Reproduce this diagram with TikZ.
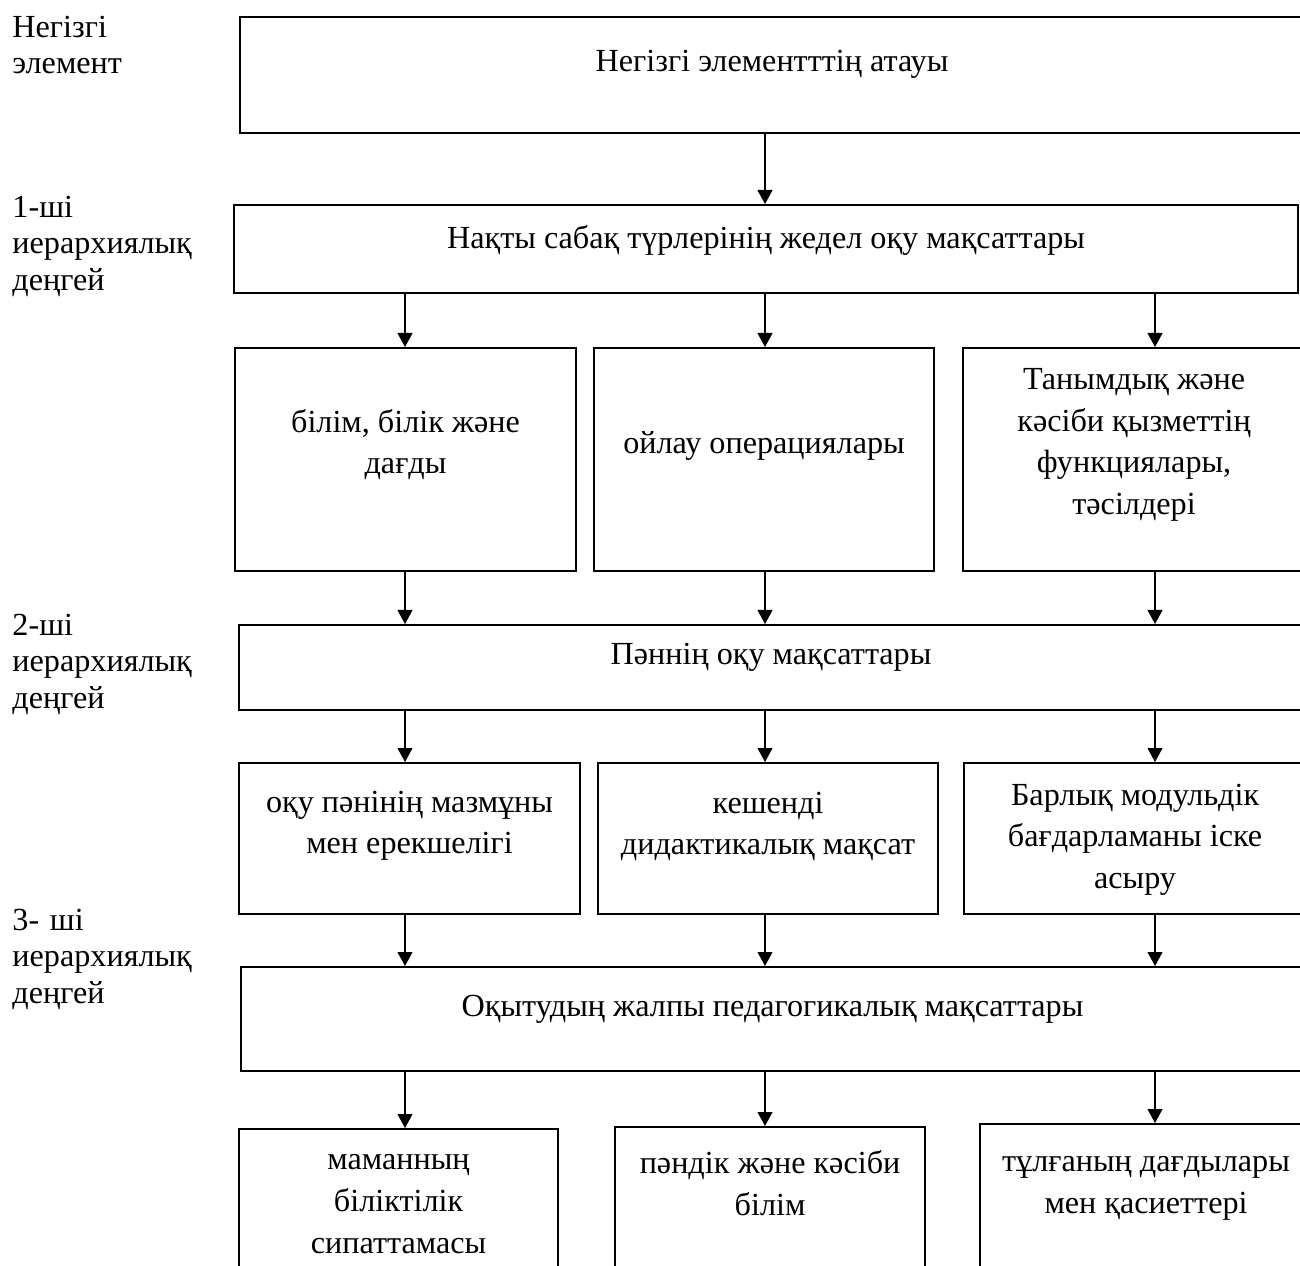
\documentclass[tikz,border=0pt]{standalone}
\usepackage{fontspec}
\setmainfont{Liberation Serif}
\usetikzlibrary{arrows.meta}
\newcommand\pxu{0.435pt}
\newdimen\pxd \pxd=0.435pt
\newcommand\boxfont{\fontsize{14pt}{18.1pt}\selectfont}
\newcommand\lift[2]{\raisebox{#1\pxd}[\height][\depth]{\begin{tabular}{@{}c@{}}#2\end{tabular}}}
\begin{document}
\begin{tikzpicture}[x=0.435pt,y=-0.435pt,
  box/.style 2 args={draw,line width=0.9pt,inner sep=0pt,anchor=north west,
    minimum width=#1*\pxu,minimum height=#2*\pxu,font=\boxfont},
  lvl/.style={anchor=base west,inner sep=0pt,text width=200*\pxu,align=left,
    font=\fontsize{14pt}{16pt}\selectfont},
  arr/.style={-{Triangle[width=6.5pt,length=6.1pt]},line width=0.5pt}]
\fill[white] (0,0) rectangle (1300,1265);
\clip (0,0) rectangle (1300,1265);
% уровни слева
\node[lvl] (lbl0) at (12,37) {Негізгі\\элемент};
\node[lvl] (lbl1) at (12,217) {1-ші\\иерархиялық\\деңгей};
\node[lvl] (lbl2) at (12,635) {2-ші\\иерархиялық\\деңгей};
\node[lvl] (lbl3) at (12,930) {3- ші\\иерархиялық\\деңгей};
% широкие блоки
\node[box={1064}{116}] (main) at (239,16) {\lift{12}{Негізгі элементттің атауы}};
\node[box={1064}{88}] (lvl1) at (233,204) {\lift{9}{Нақты сабақ түрлерінің жедел оқу мақсаттары}};
\node[box={1064}{85}] (lvl2) at (238,624) {\lift{11}{Пәннің оқу мақсаттары}};
\node[box={1063}{104}] (lvl3) at (240,966) {\lift{11}{Оқытудың жалпы педагогикалық мақсаттары}};
% первый ряд
\node[box={341}{223}] (know) at (234,347) {\lift{15}{білім, білік және\\дағды}};
\node[box={340}{223}] (think) at (593,347) {\lift{14}{ойлау операциялары}};
\node[box={342}{223}] (func) at (962,347) {\lift{16}{Танымдық және\\кәсіби қызметтің\\функциялары,\\тәсілдері}};
% второй ряд
\node[box={341}{151}] (subj) at (238,762) {\lift{14}{оқу пәнінің мазмұны\\мен ерекшелігі}};
\node[box={340}{151}] (compl) at (597,762) {\lift{13}{кешенді\\дидактикалық мақсат}};
\node[box={342}{151}] (modul) at (963,762) {\lift{0}{Барлық модульдік\\бағдарламаны іске\\асыру}};
% нижний ряд
\node[box={319}{160}] (spec) at (238,1128) {\lift{6}{маманның\\біліктілік\\сипаттамасы}};
\node[box={310}{160}] (prof) at (614,1126) {\lift{21}{пәндік және кәсіби\\білім}};
\node[box={332}{160}] (pers) at (979,1123) {\lift{20}{тұлғаның дағдылары\\мен қасиеттері}};
% стрелки
\coordinate (cA) at (405,0);
\coordinate (cB) at (765,0);
\coordinate (cC) at (1155,0);
\draw[arr] (main.south -| cB) -- (lvl1.north -| cB);
\foreach \c/\u/\d/\w in {cA/know/subj/spec,cB/think/compl/prof,cC/func/modul/pers}{
  \draw[arr] (lvl1.south -| \c) -- (\u.north -| \c);
  \draw[arr] (\u.south -| \c) -- (lvl2.north -| \c);
  \draw[arr] (lvl2.south -| \c) -- (\d.north -| \c);
  \draw[arr] (\d.south -| \c) -- (lvl3.north -| \c);
  \draw[arr] (lvl3.south -| \c) -- (\w.north -| \c);
}
\end{tikzpicture}
\end{document}
